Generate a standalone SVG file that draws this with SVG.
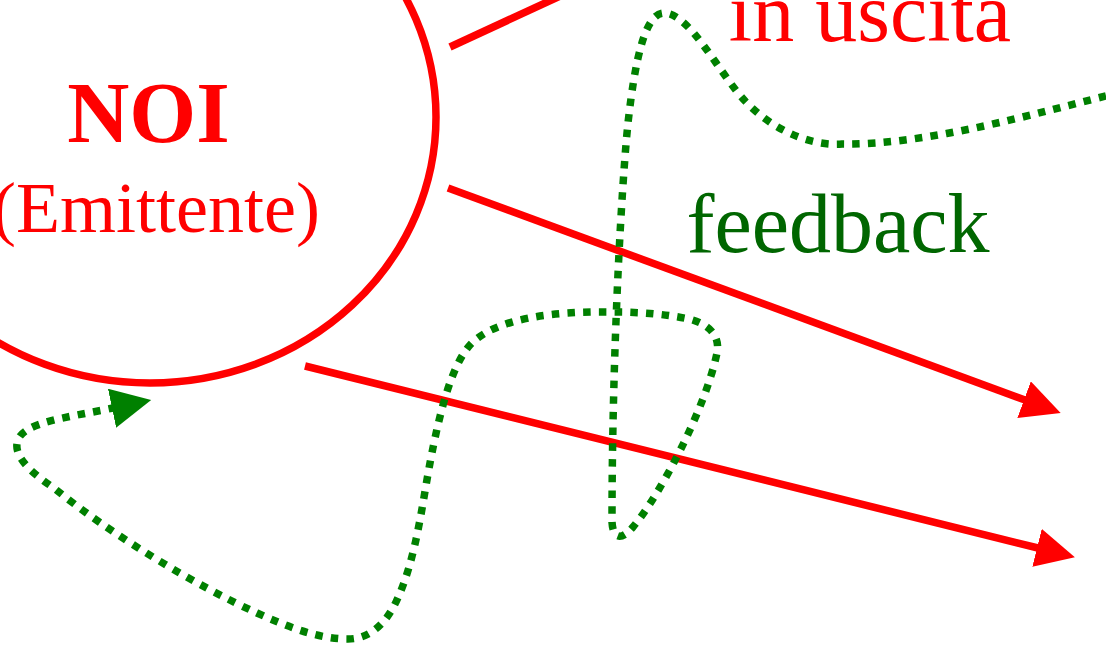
<svg xmlns="http://www.w3.org/2000/svg" width="1106" height="648" viewBox="0 0 1106 648">
<style>
  .red { fill: none; stroke: #ff0000; stroke-width: 7.5; }
  .fb { fill: none; stroke: #008000; stroke-width: 7.5; stroke-dasharray: 7.5 8.2; }
  .t { font-family: "Liberation Serif", "Times New Roman", serif; text-anchor: middle; }
</style>
<defs>
  <marker id="arrRed" markerUnits="userSpaceOnUse" markerWidth="40" markerHeight="40" viewBox="0 0 40 40" refX="1" refY="19.5" orient="auto">
    <path d="M0,0 L39,19.5 L0,39 z" fill="#ff0000" stroke="none"/>
  </marker>
  <marker id="arrGreen" markerUnits="userSpaceOnUse" markerWidth="41" markerHeight="41" viewBox="0 0 41 41" refX="1" refY="20" orient="auto">
    <path d="M0,0 L40,20 L0,40 z" fill="#008000" stroke="none"/>
  </marker>
</defs>
<rect width="1106" height="648" fill="#ffffff"/>
<g id="noi">
  <ellipse cx="150" cy="117" rx="286" ry="266" class="red"/>
  <text class="t" x="148.5" y="142" font-size="86" font-weight="bold" fill="#ff0000">NOI</text>
  <text class="t" x="156" y="232" font-size="72" fill="#ff0000">(Emittente)</text>
</g>
<g id="label-uscita">
  <text class="t" x="870" y="41" font-size="84" fill="#ff0000">in uscita</text>
</g>
<g id="label-feedback">
  <text class="t" x="838" y="252" font-size="84" fill="#006600">feedback</text>
</g>
<g id="connectors">
  <line class="red" x1="450" y1="47" x2="610" y2="-27"/>
  <line class="red" x1="448" y1="188" x2="1025" y2="400" marker-end="url(#arrRed)"/>
  <line class="red" x1="305" y1="366" x2="1038" y2="548" marker-end="url(#arrRed)"/>
  <path class="fb" marker-end="url(#arrGreen)" d="M1106,96 C1040,112 930,145 842,144 C820,146 780,137 746,102 C720,75 690,13 664,13 C645,13 635,60 628,123 C622,180 612,350 612,522 C613,540 622,540 633,527 C660,495 705,410 717,353 C720,338 712,325 689,319 C665,314 640,312 612,312 C555,311 495,318 470,345 C452,365 440,410 430,463 C422,505 416,560 396,602 C386,623 370,639 348,639 C320,639 290,628 257,613 C195,585 110,534 54,488 C30,472 12,455 18,440 C24,422 70,417 113,408"/>
</g>
</svg>
